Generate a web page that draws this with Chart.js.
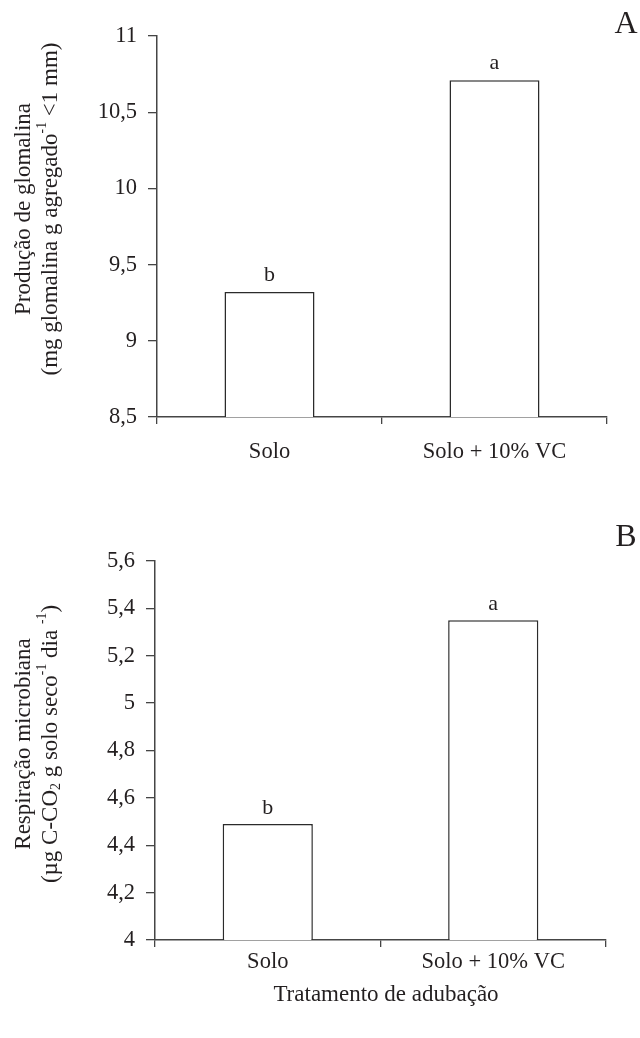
<!DOCTYPE html>
<html>
<head>
<meta charset="utf-8">
<script src="https://cdn.jsdelivr.net/npm/chart.js@4/dist/chart.umd.min.js"></script>
<style>
    html, body { margin: 0; padding: 0; background: #fff; }
    #wrap { position: relative; width: 640px; height: 1038px; }
    .box { position: absolute; left: 0; width: 640px; }
</style>
</head>
<body>
<div id="wrap">
    <div class="box" style="top:0;height:500px"><canvas id="chartA"></canvas></div>
    <div class="box" style="top:500px;height:538px"><canvas id="chartB"></canvas></div>
</div>
<script>
var categories = ['Solo', 'Solo + 10% VC'];

// painel A - glomalina
var glomalina = [9.32, 10.71];
var glomalinaLetters = ['b', 'a'];
var glomalinaTicks = ['8,5', '9', '9,5', '10', '10,5', '11'];

// painel B - respiracao
var respiracao = [4.49, 5.35];
var respiracaoLetters = ['b', 'a'];
var respiracaoTicks = ['4', '4,2', '4,4', '4,6', '4,8', '5', '5,2', '5,4', '5,6'];

var xTitle = 'Tratamento de adubação';
var titleA = [[{t: 'Produção de glomalina'}],
              [{t: '(mg glomalina g agregado'}, {t: '-1', s: 'sup'}, {t: ' <1 mm)'}]];
var titleB = [[{t: 'Respiração microbiana'}],
              [{t: '(µg C-CO'}, {t: '2', s: 'sub'}, {t: ' g solo seco'}, {t: '-1', s: 'sup'}, {t: ' dia '}, {t: '-1', s: 'sup'}, {t: ')'}]];

var FONT = "'Liberation Serif', 'Times New Roman', serif";
var INK = '#231f20';
var LINE = '#454545';

// draws text made of normal / sup / sub pieces, centred on x
function richText(ctx, parts, x, y, size) {
    var w = 0;
    parts.forEach(function(p) {
        ctx.font = (p.s ? size * 0.6 : size) + 'px ' + FONT;
        w += ctx.measureText(p.t).width;
    });
    var cx = x - w / 2;
    parts.forEach(function(p) {
        var dy = 0;
        if (p.s === 'sup') dy = -size * 0.38;
        if (p.s === 'sub') dy = size * 0.22;
        ctx.font = (p.s ? size * 0.6 : size) + 'px ' + FONT;
        ctx.fillText(p.t, cx, y + dy);
        cx += ctx.measureText(p.t).width;
    });
}

var extras = {
    id: 'extras',
    afterDatasetsDraw: function(chart, args, o) {
        var ctx = chart.ctx;
        ctx.save();
        ctx.fillStyle = INK;
        ctx.textAlign = 'center';
        ctx.textBaseline = 'alphabetic';
        ctx.font = '22px ' + FONT;
        chart.getDatasetMeta(0).data.forEach(function(bar, i) {
            ctx.fillText(o.letters[i], bar.x, bar.y - o.letterGap);
        });

        // panel letter
        ctx.font = '32px ' + FONT;
        ctx.textBaseline = 'middle';
        ctx.fillText(o.panel, o.panelX, o.panelY);

        // y title, rotated
        ctx.textAlign = 'left';
        ctx.textBaseline = 'middle';
        o.title.forEach(function(line, i) {
            ctx.save();
            ctx.translate(o.titleX[i], o.titleY);
            ctx.rotate(-Math.PI / 2);
            richText(ctx, line, 0, 0, 23);
            ctx.restore();
        });

        if (o.bottomTitle) {
            ctx.font = '23px ' + FONT;
            ctx.textAlign = 'center';
            ctx.fillText(o.bottomTitle, o.bottomX, o.bottomY);
        }
        ctx.restore();
    }
};

function makeChart(id, values, tickLabels, min, max, step, cfg) {
    return new Chart(document.getElementById(id), {
        type: 'bar',
        data: {
            labels: categories,
            datasets: [{
                data: values,
                backgroundColor: '#ffffff',
                borderColor: '#2b2b2b',
                borderWidth: 1.5,
                borderSkipped: 'bottom',
                categoryPercentage: 1,
                barPercentage: 0.4
            }]
        },
        options: {
            responsive: true,
            maintainAspectRatio: false,
            animation: false,
            layout: { padding: cfg.padding },
            plugins: {
                legend: { display: false },
                tooltip: { enabled: false },
                extras: cfg.extras
            },
            scales: {
                x: {
                    z: 1,
                    offset: true,
                    grid: { offset: true, drawOnChartArea: false, tickLength: 7, color: LINE, lineWidth: 1.3 },
                    border: { color: LINE, width: 1.5 },
                    ticks: { color: INK, padding: cfg.xPad, maxRotation: 0, font: { family: FONT, size: 22.5 } },
                    afterFit: function(s) { s.height = cfg.xHeight; s.paddingLeft = 0; s.paddingRight = 0; }
                },
                y: {
                    z: 1,
                    min: min,
                    max: max,
                    ticks: {
                        stepSize: step,
                        color: INK,
                        padding: 11,
                        font: { family: FONT, size: 22.5 },
                        callback: function(v, i) { return tickLabels[i]; }
                    },
                    grid: { drawOnChartArea: false, tickLength: 9, color: LINE, lineWidth: 1.3 },
                    border: { color: LINE, width: 1.5 },
                    afterFit: function(s) { s.width = cfg.yWidth; s.paddingTop = 0; s.paddingBottom = 0; }
                }
            }
        },
        plugins: [extras]
    });
}

makeChart('chartA', glomalina, glomalinaTicks, 8.5, 11, 0.5, {
    padding: { top: 36, right: 33, left: 0, bottom: 0 },
    xHeight: 83, yWidth: 157, xPad: 15,
    extras: {
        letters: glomalinaLetters, letterGap: 11,
        panel: 'A', panelX: 626, panelY: 25,
        title: titleA, titleX: [24, 51], titleY: 209
    }
});

makeChart('chartB', respiracao, respiracaoTicks, 4, 5.6, 0.2, {
    padding: { top: 61, right: 34, left: 0, bottom: 0 },
    xHeight: 98, yWidth: 155, xPad: 2,
    extras: {
        letters: respiracaoLetters, letterGap: 10,
        panel: 'B', panelX: 626, panelY: 38,
        title: titleB, titleX: [24, 51], titleY: 244,
        bottomTitle: xTitle, bottomX: 386, bottomY: 495
    }
});
</script>
</body>
</html>
